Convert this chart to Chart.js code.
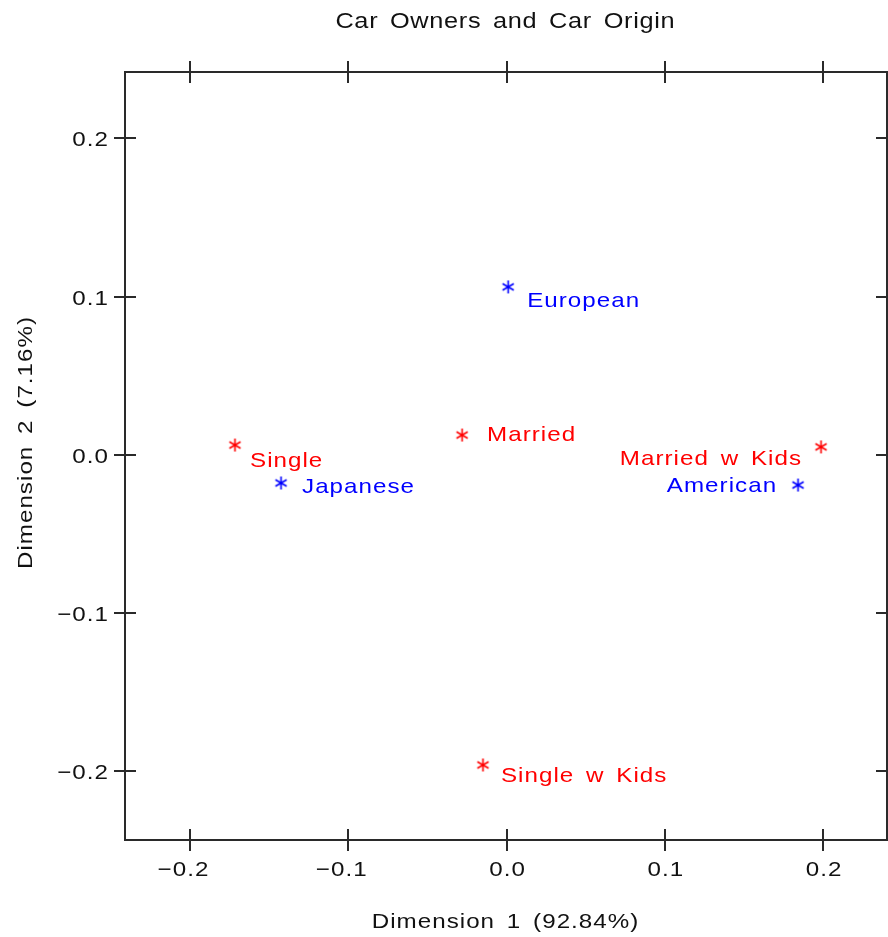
<!DOCTYPE html>
<html><head><meta charset="utf-8">
<script src="https://cdn.jsdelivr.net/npm/chart.js@4"></script>
<style>html,body{margin:0;padding:0;background:#fff;overflow:hidden;} #wrap{width:888px;height:937px;}</style>
</head><body><div id="wrap"><canvas id="c" width="888" height="937"></canvas></div>
<script>
// ---- data ----
const ownerLabels = ['Married', 'Married w Kids', 'Single', 'Single w Kids'];
const ownerDim1 = [-0.0281, 0.1987, -0.1716, -0.0149];
const ownerDim2 = [0.0126, 0.0051, 0.0063, -0.1959];
const originLabels = ['American', 'European', 'Japanese'];
const originDim1 = [0.1842, 0.0010, -0.1425];
const originDim2 = [-0.0190, 0.1062, -0.0177];
const xTicks = [-0.2, -0.1, 0.0, 0.1, 0.2];
const yTicks = [-0.2, -0.1, 0.0, 0.1, 0.2];
const titleText = 'Car Owners and Car Origin';
const xTitle = 'Dimension 1 (92.84%)';
const yTitle = 'Dimension 2 (7.16%)';

// ---- label placement (style only) ----
const ownerLabelPlace = [
  {dx: 25, dy: -2, align: 'left'},
  {dx: -20, dy: 11, align: 'right'},
  {dx: 15, dy: 14, align: 'left'},
  {dx: 18, dy: 10, align: 'left'}
];
const originLabelPlace = [
  {dx: -22, dy: -1, align: 'right'},
  {dx: 19, dy: 13, align: 'left'},
  {dx: 21, dy: 3, align: 'left'}
];

const RED = '#ff0000', BLUE = '#0000ff', INK = '#111111';
const FONT = '"Liberation Sans", Arial, Helvetica, sans-serif';
const SX = 1.15; // horizontal stretch of the wide SAS-like lettering

function makeStar(color) {
  const c = document.createElement('canvas');
  c.width = 15; c.height = 15;
  const g = c.getContext('2d');
  g.strokeStyle = color; g.lineWidth = 1.6;
  const cx = 7.5, cy = 7.5, r = 6.5;
  g.beginPath();
  for (const a of [90, 30, 150]) {
    const t = a * Math.PI / 180;
    g.moveTo(cx + r * Math.cos(t), cy - r * Math.sin(t));
    g.lineTo(cx - r * Math.cos(t), cy + r * Math.sin(t));
  }
  g.stroke();
  return c;
}

function fmt(v) {
  const s = Math.abs(v).toFixed(1);
  return v < -1e-9 ? '\u2212' + s : s;
}

function stretchText(ctx, text, x, y, align, ls, ws) {
  ctx.save();
  ctx.letterSpacing = ls + 'px';
  ctx.wordSpacing = ws + 'px';
  ctx.translate(x, y);
  ctx.scale(SX, 1);
  ctx.textAlign = align;
  let off = 0;
  if (align === 'right') off = ls;      // trailing letter spacing
  if (align === 'center') off = ls / 2;
  ctx.fillText(text, off, 0);
  ctx.restore();
}

const decorPlugin = {
  id: 'decor',
  afterDraw(chart) {
    const ctx = chart.ctx;
    const a = chart.chartArea;
    const xs = chart.scales.x, ys = chart.scales.y;
    ctx.save();
    // frame
    ctx.strokeStyle = '#2a2a2a';
    ctx.lineWidth = 2;
    ctx.strokeRect(a.left, a.top, a.right - a.left, a.bottom - a.top);
    // ticks crossing the frame
    ctx.beginPath();
    const T = 11;
    xTicks.forEach(v => {
      const px = Math.round(xs.getPixelForValue(v));
      ctx.moveTo(px, a.top - T); ctx.lineTo(px, a.top + T);
      ctx.moveTo(px, a.bottom - T); ctx.lineTo(px, a.bottom + T);
    });
    yTicks.forEach(v => {
      const py = Math.round(ys.getPixelForValue(v));
      ctx.moveTo(a.left - T, py); ctx.lineTo(a.left + T, py);
      ctx.moveTo(a.right - T, py); ctx.lineTo(a.right + T, py);
    });
    ctx.stroke();

    ctx.fillStyle = INK;
    ctx.textBaseline = 'alphabetic';
    // x tick labels: digits centred on tick, minus hangs left
    ctx.font = '21px ' + FONT;
    xTicks.forEach(v => {
      const px = xs.getPixelForValue(v);
      ctx.save();
      ctx.letterSpacing = '0.9px';
      const w = ctx.measureText(Math.abs(v).toFixed(1)).width * SX;
      ctx.restore();
      stretchText(ctx, fmt(v), px + w / 2, a.bottom + 36, 'right', 0.9, 0);
    });
    // y tick labels: right aligned
    yTicks.forEach(v => {
      const py = ys.getPixelForValue(v);
      stretchText(ctx, fmt(v), a.left - 17, py + 8, 'right', 0.9, 0);
    });
    // title
    ctx.font = '22px ' + FONT;
    stretchText(ctx, titleText, (a.left + a.right) / 2 - 1, 28, 'center', 0.6, 3.5);
    // x axis title
    ctx.font = '21px ' + FONT;
    stretchText(ctx, xTitle, (a.left + a.right) / 2 - 1, 928, 'center', 0.9, 3.5);
    // y axis title
    ctx.save();
    ctx.translate(32, 443);
    ctx.rotate(-Math.PI / 2);
    stretchText(ctx, yTitle, 0, 0, 'center', 0.9, 3.5);
    ctx.restore();

    // point labels
    ctx.font = '21px ' + FONT;
    const drawLabels = (names, xsv, ysv, place, color) => {
      ctx.fillStyle = color;
      names.forEach((n, i) => {
        const px = xs.getPixelForValue(xsv[i]);
        const py = ys.getPixelForValue(ysv[i]);
        const p = place[i];
        stretchText(ctx, n, px + p.dx, py + p.dy + 7.5, p.align, 0.9, 3.5);
      });
    };
    drawLabels(ownerLabels, ownerDim1, ownerDim2, ownerLabelPlace, RED);
    drawLabels(originLabels, originDim1, originDim2, originLabelPlace, BLUE);
    ctx.restore();
  }
};

const starRed = makeStar(RED);
const starBlue = makeStar(BLUE);

new Chart(document.getElementById('c').getContext('2d'), {
  type: 'scatter',
  data: {
    datasets: [
      {
        label: 'Car Owners',
        data: ownerDim1.map((x, i) => ({x: x, y: ownerDim2[i]})),
        pointStyle: starRed,
        pointRadius: 7,
        borderColor: RED,
        backgroundColor: RED
      },
      {
        label: 'Car Origin',
        data: originDim1.map((x, i) => ({x: x, y: originDim2[i]})),
        pointStyle: starBlue,
        pointRadius: 7,
        borderColor: BLUE,
        backgroundColor: BLUE
      }
    ]
  },
  options: {
    responsive: false,
    animation: false,
    devicePixelRatio: 1,
    layout: {autoPadding: false, padding: {left: 125, top: 72, right: 1, bottom: 97}},
    plugins: {legend: {display: false}, tooltip: {enabled: false}, title: {display: false}},
    scales: {
      x: {type: 'linear', min: -0.2411, max: 0.2404, display: false},
      y: {type: 'linear', min: -0.2433, max: 0.2420, display: false}
    }
  },
  plugins: [decorPlugin]
});
</script>
</body></html>
